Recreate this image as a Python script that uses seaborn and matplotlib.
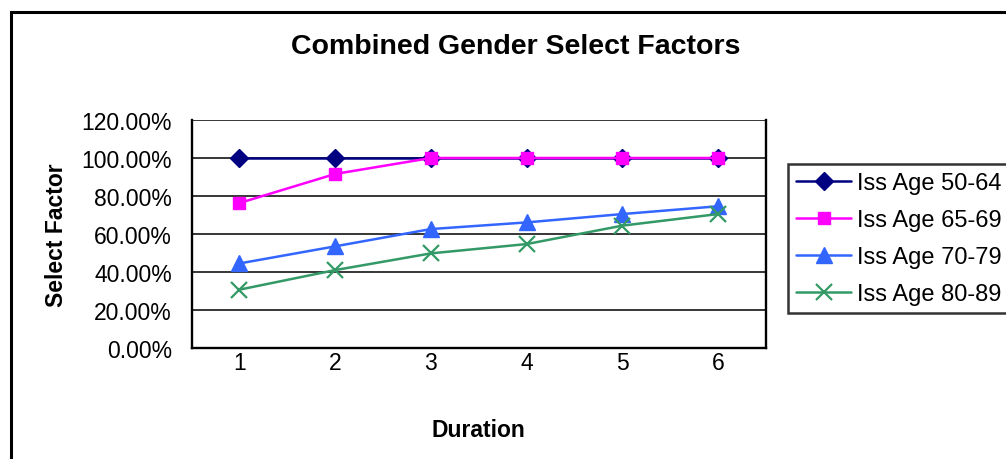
import matplotlib
matplotlib.use("Agg")
import matplotlib.pyplot as plt
import seaborn as sns
import pandas as pd
import numpy as np
from matplotlib.patches import Rectangle
from matplotlib.ticker import FixedLocator, FuncFormatter

durations = ["1", "2", "3", "4", "5", "6"]
series_names = ["Iss Age 50-64", "Iss Age 65-69", "Iss Age 70-79", "Iss Age 80-89"]
age_50_64 = [1.00, 1.00, 1.00, 1.00, 1.00, 1.00]
age_65_69 = [0.763, 0.916, 1.00, 1.00, 1.00, 1.00]
age_70_79 = [0.445, 0.535, 0.626, 0.661, 0.705, 0.746]
age_80_89 = [0.307, 0.410, 0.498, 0.547, 0.644, 0.705]
y_ticks = [0.0, 0.2, 0.4, 0.6, 0.8, 1.0, 1.2]

sns.set_theme(style="white")
plt.rcParams["font.family"] = ["Liberation Sans", "DejaVu Sans"]
plt.rcParams["text.color"] = "black"
plt.rcParams["axes.labelcolor"] = "black"
plt.rcParams["xtick.color"] = "black"
plt.rcParams["ytick.color"] = "black"

rows = []
for name, vals in zip(series_names, [age_50_64, age_65_69, age_70_79, age_80_89]):
    for i, (d, v) in enumerate(zip(durations, vals)):
        rows.append({"pos": i, "Duration": d, "value": v, "series": name})
df = pd.DataFrame(rows)

colors = ["#000080", "#FF00FF", "#3366FF", "#339966"]
markers = ["D", "s", "^", "x"]
msizes = [9, 9, 11, 11]

W, H = 1006, 460
fig = plt.figure(figsize=(W / 100, H / 100), dpi=100)
fig.patch.set_facecolor("white")
# outer chart border
fig.patches.append(Rectangle((10.5 / W, -0.05), 1.2, (H - 12.5) / H + 0.05,
                             transform=fig.transFigure, fill=False,
                             edgecolor="black", linewidth=2.2, zorder=0))

ax = fig.add_axes([191.5 / W, 1 - 349 / H, (766 - 191.5) / W, (349 - 121) / H])

for name, c, m, ms in zip(series_names, colors, markers, msizes):
    sub = df[df["series"] == name]
    sns.lineplot(data=sub, x="pos", y="value", ax=ax, color=c, marker=m,
                 markersize=ms, markeredgecolor=c, markerfacecolor=c,
                 markeredgewidth=1.6 if m == "x" else 1.0,
                 linewidth=1.8, label=name, legend=False)

ax.set_xlim(-0.5, 5.5)
ax.set_ylim(0, 1.2)
ax.yaxis.set_major_locator(FixedLocator(y_ticks))
ax.yaxis.set_major_formatter(FuncFormatter(lambda v, p: f"{v*100:.2f}%"))
ax.set_xticks(np.arange(-0.5, 6.0, 1.0))
ax.set_xticklabels([""] * 7)
ax.set_xticks(np.arange(0, 6), minor=True)
ax.set_xticklabels(durations, minor=True)
ax.tick_params(axis="x", which="minor", length=0, pad=2, labelsize=16.5)
ax.tick_params(axis="x", which="major", length=6, width=1.6, direction="out")
ax.tick_params(axis="y", length=6, width=1.6, direction="out", labelsize=16.5, pad=8)
ax.grid(axis="y", color="black", linewidth=1.1)
ax.grid(axis="x", visible=False)
ax.spines["top"].set_visible(False)
for s in ["left", "bottom", "right"]:
    ax.spines[s].set_color("black")
    ax.spines[s].set_linewidth(1.7)

ax.set_xlabel("Duration", fontsize=16.5, fontweight="bold", labelpad=32)
ax.set_ylabel("Select Factor", fontsize=16.5, fontweight="bold", labelpad=10)

fig.text(516 / W, 1 - 47 / H, "Combined Gender Select Factors",
         ha="center", va="center", fontsize=20.5, fontweight="bold")

handles, labels = ax.get_legend_handles_labels()
leg = fig.legend(handles, labels, loc="upper left",
                 bbox_to_anchor=(787.5 / W, 1 - 164.5 / H),
                 frameon=True, fancybox=False, fontsize=17, handlelength=2.35,
                 handletextpad=0.25, labelspacing=0.64, borderpad=0.35,
                 borderaxespad=0)
leg.get_frame().set_edgecolor("black")
leg.get_frame().set_linewidth(1.8)

fig.savefig("out.png", dpi=100)
